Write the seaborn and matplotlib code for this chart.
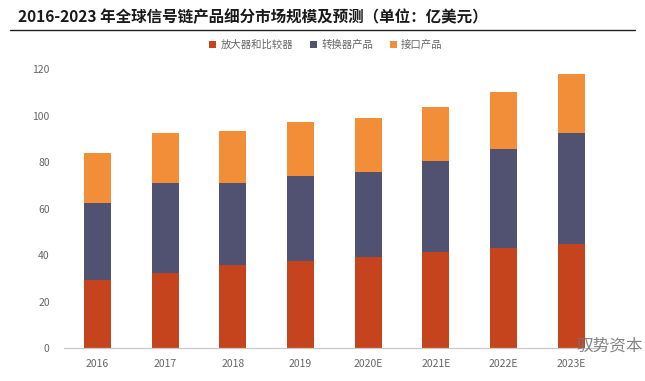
import matplotlib
matplotlib.use("Agg")
import matplotlib.pyplot as plt
import seaborn as sns
import pandas as pd
from matplotlib.patches import Patch
from matplotlib.lines import Line2D

# Data (亿美元)
years = ['2016', '2017', '2018', '2019', '2020E', '2021E', '2022E', '2023E']
amp_comp = [29.2, 32.3, 35.7, 37.4, 39.4, 41.4, 43.1, 45.0]
converter = [33.2, 38.7, 35.3, 36.6, 36.2, 38.9, 42.4, 47.5]
interface = [21.5, 21.5, 22.3, 23.2, 23.2, 23.4, 24.5, 25.3]
series_names = ['放大器和比较器', '转换器产品', '接口产品']
colors = ['#C5441E', '#515171', '#F28E37']

df = pd.DataFrame({'year': years, 'amp': amp_comp, 'conv': converter, 'intf': interface})
df['c1'] = df['amp']
df['c2'] = df['amp'] + df['conv']
df['c3'] = df['c2'] + df['intf']

sns.set_theme(style='white')
plt.rcParams['font.family'] = ['Noto Sans CJK SC', 'DejaVu Sans']

fig = plt.figure(figsize=(6.45, 3.81), dpi=100)
ax = fig.add_axes([0.0986, 0.0858, 0.8394, 0.733])

# stacked bars: draw cumulative totals from top to bottom
for col, c in zip(['c3', 'c2', 'c1'], colors[::-1]):
    sns.barplot(data=df, x='year', y=col, color=c, width=0.4, saturation=1,
                linewidth=0, edgecolor='none', ax=ax)

ax.set_ylim(0, 120)
ax.set_xlim(-0.5, 7.5)
ax.set_yticks(range(0, 121, 20))
ax.set_xlabel('')
ax.set_ylabel('')
for s in ['top', 'right', 'left']:
    ax.spines[s].set_visible(False)
ax.spines['bottom'].set_color('#C8C8C8')
ax.spines['bottom'].set_linewidth(0.9)
ax.tick_params(axis='both', length=0, labelsize=7.5, labelcolor='#666666', pad=8)
ax.tick_params(axis='y', pad=10)

# legend
handles = [Patch(facecolor=c, edgecolor='none') for c in colors]
fig.legend(handles, series_names, loc='center', bbox_to_anchor=(0.505, 0.882), ncol=3,
           frameon=False, fontsize=7.5, handlelength=0.7, handleheight=0.7,
           handletextpad=0.4, columnspacing=1.6, labelcolor='#666666')

# title and rule
fig.text(0.028, 0.955, '2016-2023 年全球信号链产品细分市场规模及预测（单位：亿美元）',
         fontsize=11.2, fontweight='bold', color='#1a1a1a', va='center', ha='left')
fig.add_artist(Line2D([0.015, 0.985], [0.921, 0.921], color='#222222', linewidth=1.0))

# watermark
fig.text(0.945, 0.092, '驭势资本', fontsize=12, color='#777777', ha='center', va='center', alpha=0.9)

plt.savefig('out.png', dpi=100)
